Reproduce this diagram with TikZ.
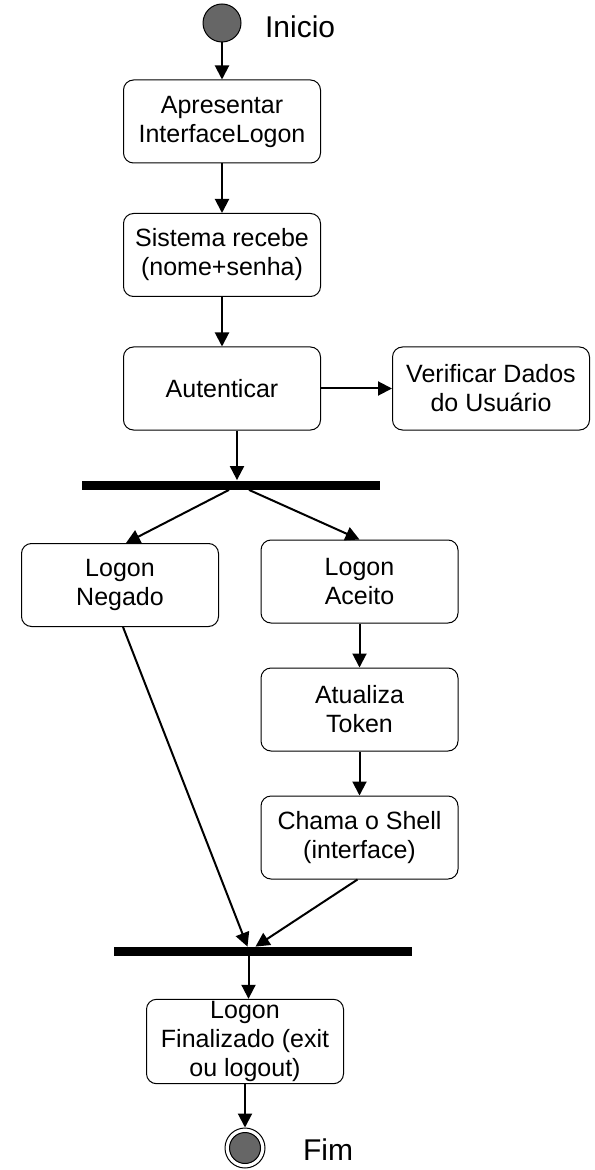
\documentclass[tikz,border=0pt]{standalone}
\usepackage{fontspec}
\setmainfont{Liberation Sans}
\usetikzlibrary{arrows.meta,positioning,calc}

\begin{document}
\begin{tikzpicture}[
    x=0.5pt, y=-0.5pt,
    box/.style={rectangle, draw, rounded corners=5pt, minimum width=98.5pt, minimum height=41.5pt, font=\fontsize{12.5}{14.5}\selectfont, line width=0.5pt, align=center, inner sep=1pt},
    bar/.style={rectangle, fill=black, minimum width=149pt, minimum height=4.5pt, inner sep=0pt},
    dot/.style={circle, draw, line width=0.5pt, fill=black!60, inner sep=0pt},
    arrow/.style={-{Triangle[length=7pt, width=7pt]}, line width=1pt},
    tag/.style={font=\fontsize{15}{17}\selectfont}
]
\useasboundingbox (0,0) rectangle (594,1170);

% Start and end
\node[dot, minimum size=19pt] (start) at (222,23) {};
\node[tag, anchor=west] (inicio) at (258,27) {Inicio};

% Main column
\node[box] (apres) at (222,121.5) {Apresentar\\InterfaceLogon};
\node[box] (recebe) at (222,255) {Sistema recebe\\(nome+senha)};
\node[box] (auth) at (222,388.5) {Autenticar};
\node[box] (verif) at (491,388.5) {Verificar Dados\\do Usuário};

% Fork
\node[bar] (bar1) at (231,485) {};
\node[box] (negado) at (120,585) {Logon\\Negado};
\node[box] (aceito) at (359.5,581.5) {Logon\\Aceito};
\node[box] (token) at (359.5,709.5) {Atualiza\\Token};
\node[box] (shell) at (359.5,837.5) {Chama o Shell\\(interface)};

% Join
\node[bar] (bar2) at (262.5,951.5) {};
\node[box] (final) at (245,1041.5) {Logon\\Finalizado (exit\\ou logout)};
\node[circle, draw, line width=0.5pt, fill=white, minimum size=20pt, inner sep=0pt] (fim) at (245,1148) {};
\node[dot, minimum size=15.5pt] (fimdot) at (fim) {};
\node[tag, anchor=west] (fimtxt) at (296,1150) {Fim};

% Arrows
\draw[arrow] (start) -- (apres);
\draw[arrow] (apres) -- (recebe);
\draw[arrow] (recebe) -- (auth);
\draw[arrow] (auth) -- (verif);
\draw[arrow] ([xshift=7.5pt]auth.south) -- ([xshift=7.5pt]auth.south |- bar1.north);
\draw[arrow] ([xshift=-1pt]bar1.south) -- ([xshift=3pt]negado.north);
\draw[arrow] ([xshift=9pt]bar1.south) -- (aceito.north);
\draw[arrow] (aceito) -- (token);
\draw[arrow] (token) -- (shell);
\draw[arrow] ([xshift=1.5pt]negado.south) -- ([xshift=-7.5pt]bar2.north);
\draw[arrow] ([xshift=-1pt]shell.south) -- ([xshift=-3.5pt]bar2.north);
\draw[arrow] ([xshift=-7pt]bar2.south) -- ([xshift=-7pt]bar2.south |- final.north);
\draw[arrow] (final) -- (fim);
\end{tikzpicture}
\end{document}
